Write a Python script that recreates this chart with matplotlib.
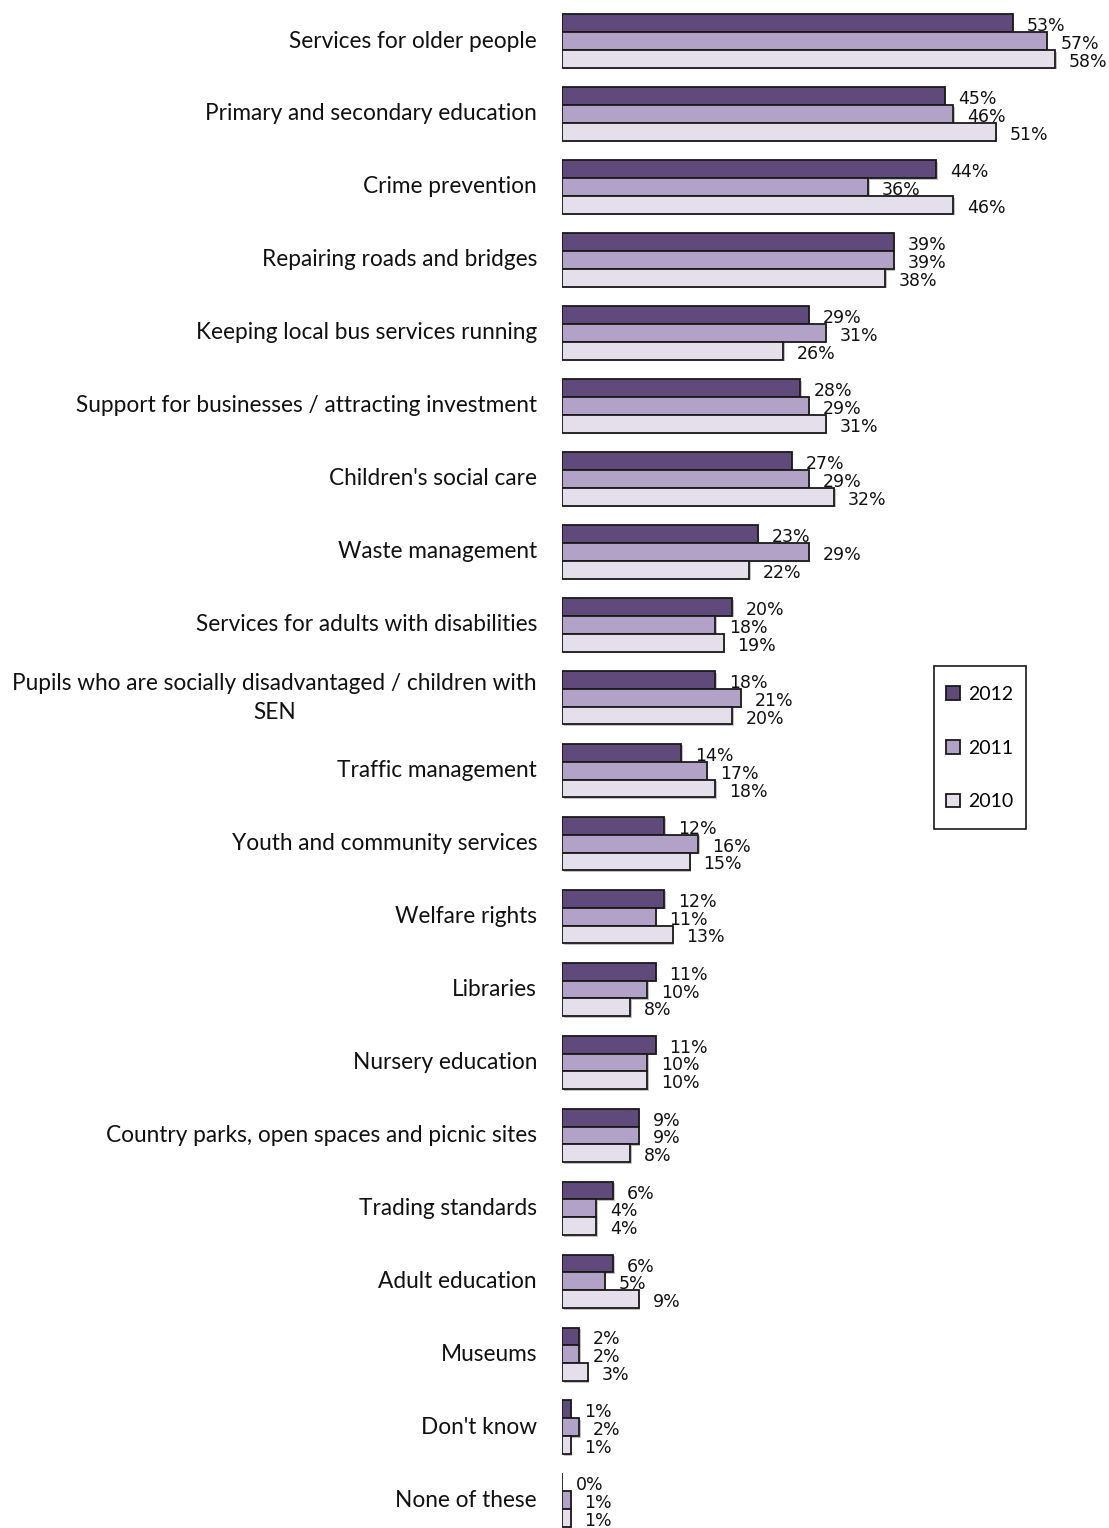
import matplotlib
matplotlib.use("Agg")
import matplotlib.pyplot as plt
import matplotlib.patheffects as pe
from matplotlib.patches import Rectangle
import numpy as np

categories = [
    "Services for older people",
    "Primary and secondary education",
    "Crime prevention",
    "Repairing roads and bridges",
    "Keeping local bus services running",
    "Support for businesses / attracting investment",
    "Children's social care",
    "Waste management",
    "Services for adults with disabilities",
    "Pupils who are socially disadvantaged / children with\nSEN",
    "Traffic management",
    "Youth and community services",
    "Welfare rights",
    "Libraries",
    "Nursery education",
    "Country parks, open spaces and picnic sites",
    "Trading standards",
    "Adult education",
    "Museums",
    "Don't know",
    "None of these",
]
series_names = ["2012", "2011", "2010"]
values_2012 = [53, 45, 44, 39, 29, 28, 27, 23, 20, 18, 14, 12, 12, 11, 11, 9, 6, 6, 2, 1, 0]
values_2011 = [57, 46, 36, 39, 31, 29, 29, 29, 18, 21, 17, 16, 11, 10, 10, 9, 4, 5, 2, 2, 1]
values_2010 = [58, 51, 46, 38, 26, 31, 32, 22, 19, 20, 18, 15, 13, 8, 10, 8, 4, 9, 3, 1, 1]
colors = ["#5f4a7b", "#b2a2c7", "#e5dfec"]

W, H = 1109, 1528
fig = plt.figure(figsize=(W / 100, H / 100), dpi=100)
fig.patch.set_facecolor("white")

left_px, right_px = 562, 1097.5
ax = fig.add_axes([left_px / W, 0, (right_px - left_px) / W, 1])
ax.set_xlim(0, 63)
ax.set_ylim(20.38, -0.562)
ax.axis("off")

y = np.arange(len(categories))
bar_h = 0.245
shadow = [pe.SimplePatchShadow(offset=(1.2, -1.2), shadow_rgbFace="#999999", alpha=0.6), pe.Normal()]

for k, (vals, col, name) in enumerate(zip([values_2012, values_2011, values_2010], colors, series_names)):
    pos = y + (k - 1) * bar_h
    bars = ax.barh(pos, vals, height=bar_h, color=col, edgecolor="#1a1a1a",
                   linewidth=1.3, label=name, zorder=2)
    for b in bars:
        b.set_path_effects(shadow)
    # value labels sit beneath the bars, so a neighbouring bar may cover them
    for p, v in zip(pos, vals):
        ax.annotate(f"{v}%", xy=(v, p), xytext=(14, -3), textcoords="offset pixels",
                    ha="left", va="center", fontsize=12.5, family="DejaVu Sans",
                    color="#111111", zorder=1)

# category names to the left of the bars
for yi, cat in zip(y, categories):
    ax.annotate(cat, xy=(0, yi), xytext=(-25, 0), textcoords="offset pixels",
                ha="right", va="center", multialignment="center", linespacing=1.45,
                fontsize=16.3, family="Lato", color="#111111", annotation_clip=False)

# legend: entries without frame, box drawn separately
leg = fig.legend(loc="center", bbox_to_anchor=(980 / W, 1 - 748 / H),
                 frameon=False, prop={"family": "Lato", "size": 14},
                 handlelength=0.7, handleheight=0.7, handletextpad=0.45,
                 labelspacing=1.9, borderpad=0, borderaxespad=0)
for h in leg.legend_handles:
    h.set_path_effects([])
fig.patches.append(Rectangle((934 / W, 1 - 829 / H), 92 / W, 163 / H,
                             transform=fig.transFigure, fill=False,
                             edgecolor="#1a1a1a", linewidth=1.2))

fig.savefig("out.png", dpi=100, facecolor="white")
